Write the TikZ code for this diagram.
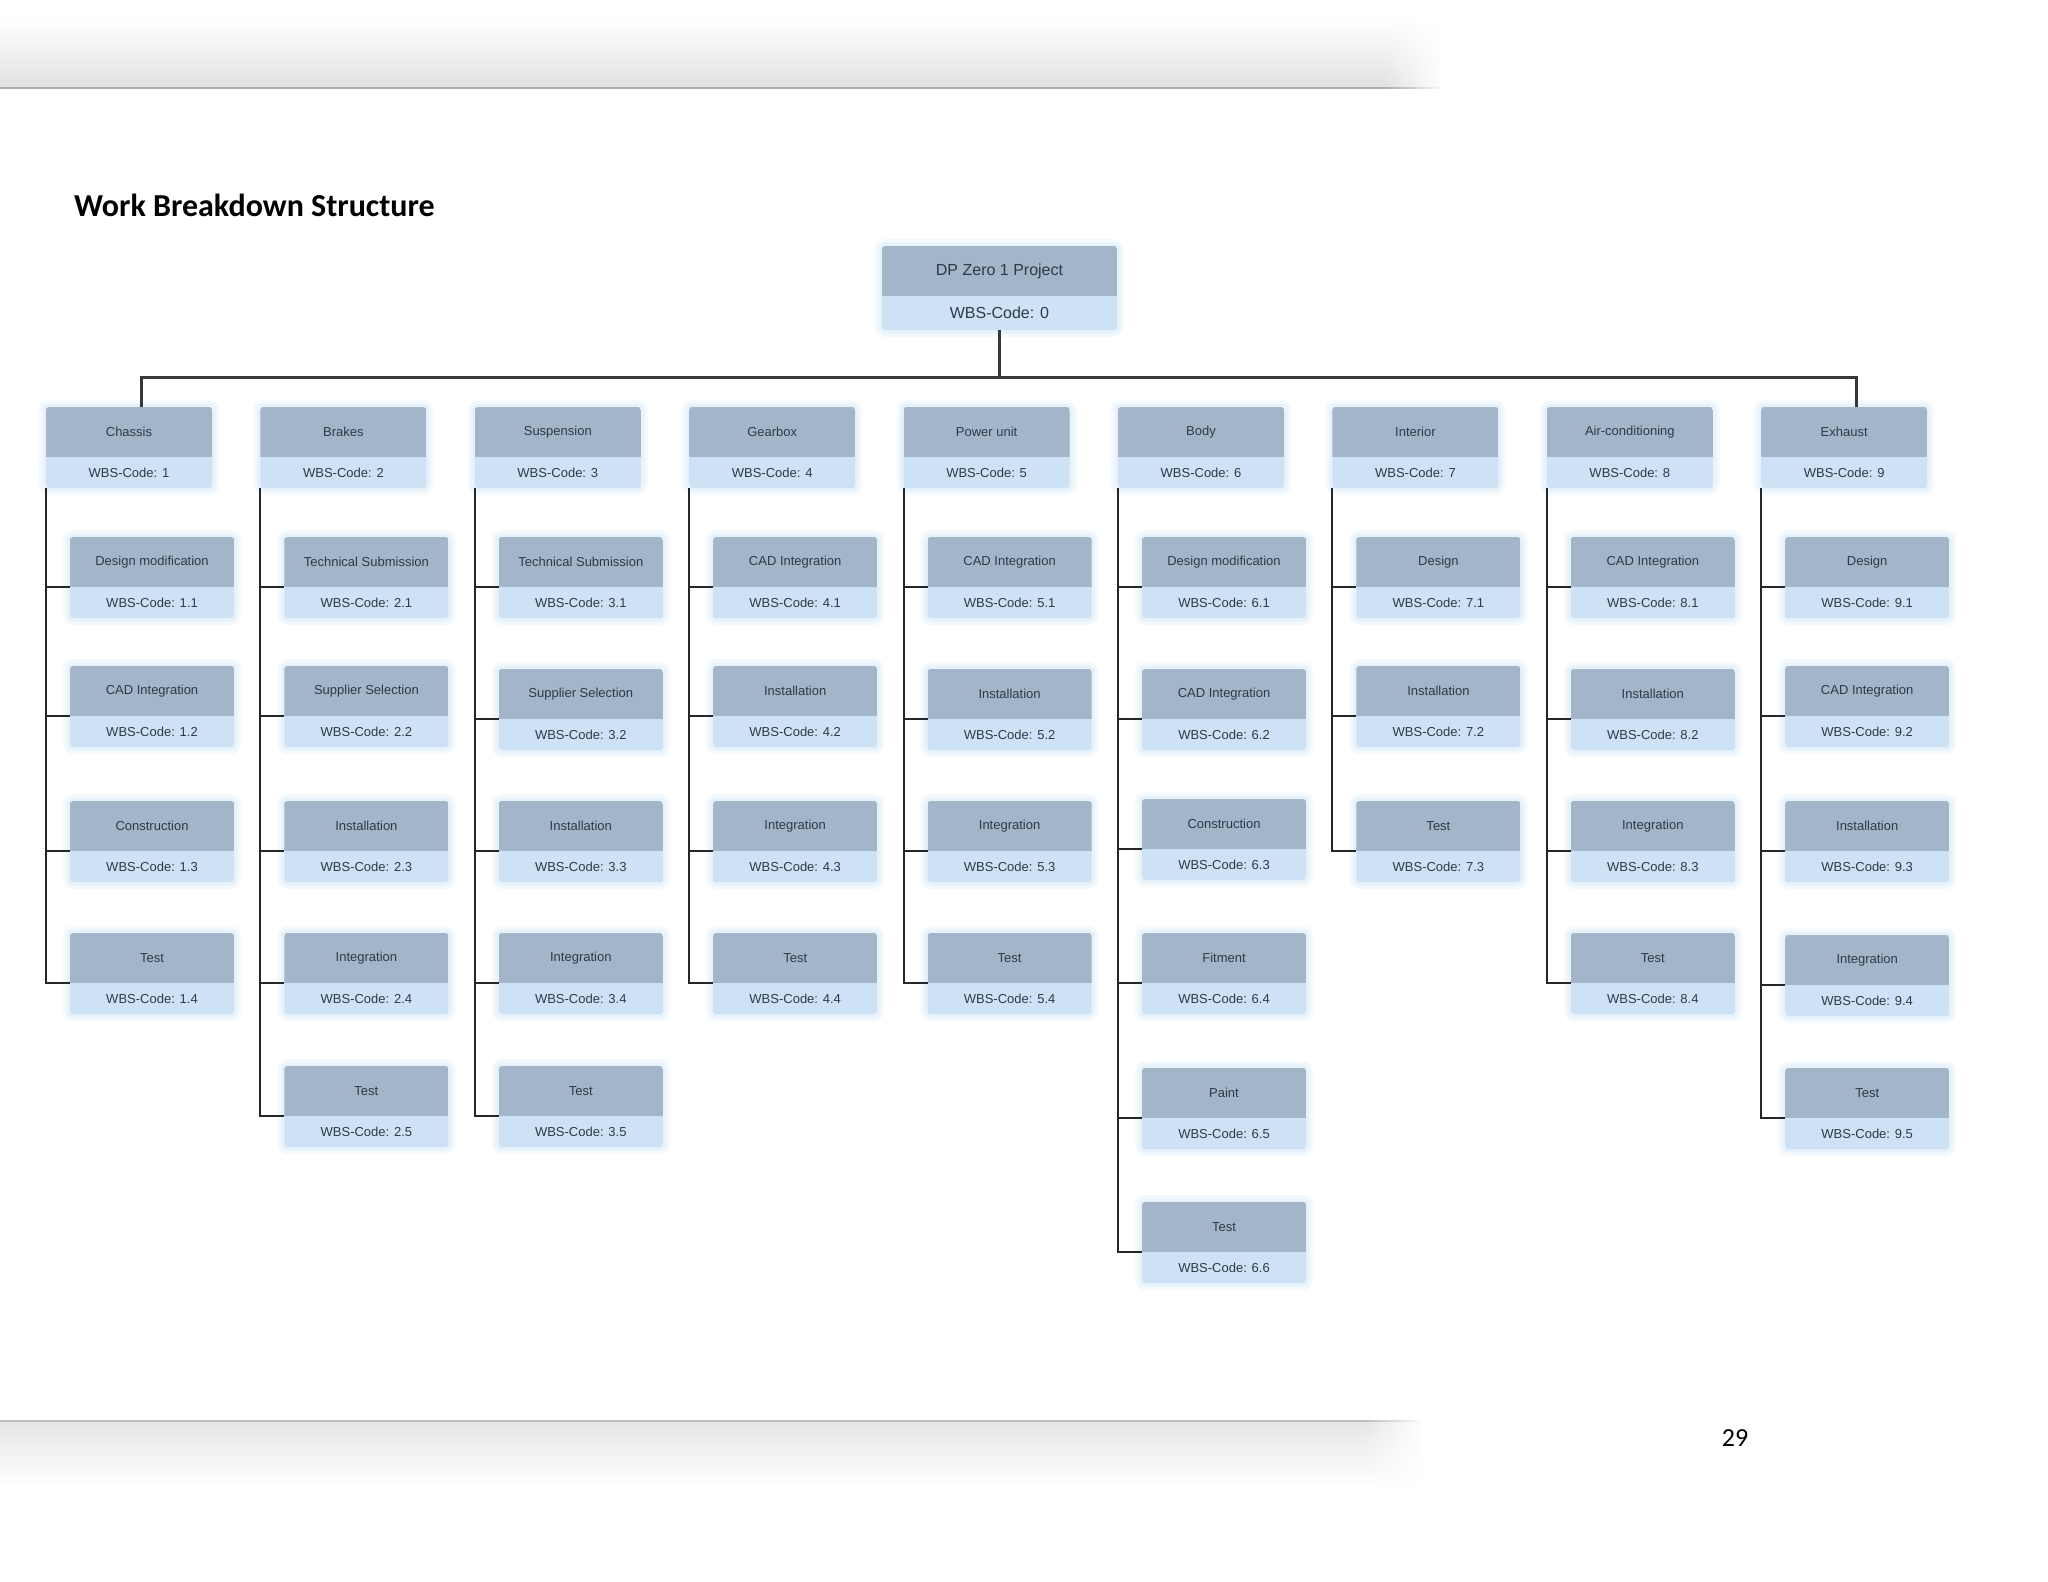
\documentclass[tikz,border=0pt]{standalone}
\usepackage{fontspec}
\setmainfont{Liberation Sans}
\newfontfamily\carlito{Carlito}
\usetikzlibrary{calc}
\definecolor{darkc}{HTML}{A3B5C9}
\definecolor{lightc}{HTML}{CDE3F5}
\definecolor{txtc}{HTML}{2F3A48}
\definecolor{haloA}{HTML}{F4F9FD}
\definecolor{haloB}{HTML}{E8F2FA}
\tikzset{
  boxbase/.style={fill=lightc, rounded corners=3pt, inner sep=0pt, outer sep=0pt,
    line join=round,
    preaction={draw=haloA, line width=14pt},
    preaction={draw=haloB, line width=7pt}},
  boxtxt/.style={text=txtc, inner sep=0pt},
  treeline/.style={draw=black!85, line width=2pt},
  busline/.style={draw=black!78, line width=3pt},
}
\newcommand\wbs[9]{%
  \node[boxbase, minimum width=#4pt, minimum height={#5+#6}, anchor=north] (#1) at (#2,#3) {};
  \begin{scope}
    \clip[rounded corners=3pt] (#1.south west) rectangle (#1.north east);
    \fill[darkc] (#1.north west) rectangle ([yshift=-#5pt]#1.north east);
  \end{scope}
  \coordinate (#1-s) at ([yshift=-#5pt]#1.north west);
  \node[boxtxt, font=\fontsize{#9}{#9}\selectfont] (#1-t) at ($(#1.north)+(0,{#5/2})$) {#7};
  \node[boxtxt, font=\fontsize{#9}{#9}\selectfont] (#1-c) at ($(#1.south)+(0,{-#6/2})$) {#8};
}
\newcommand\Lone[4]{\wbs{#1}{#2}{407}{166}{50}{31}{#3}{#4}{13}}
\newcommand\Ltwo[5]{\wbs{#1}{#2}{#3}{164}{50}{31}{#4}{#5}{13}}
\newcommand\kid[2]{\draw[treeline] (#1.south west) |- (#2-s);}
\begin{document}
\begin{tikzpicture}[x=1pt, y=-1pt]
\useasboundingbox (0,0) rectangle (2048,1582);
\fill[white] (0,0) rectangle (2048,1582);

% page shadows
\shade[top color=white, bottom color=black!12] (0,18) rectangle (1380,88);
\draw[black!32, line width=2pt] (0,88) -- (1380,88);
\foreach \i in {0,...,11} {
  \shade[top color=white, bottom color=black!12, opacity={1-\i/12}] ({1380+5*\i},18) rectangle ({1385+5*\i},88);
  \draw[black!32, line width=2pt, opacity={1-\i/12}] ({1380+5*\i},88) -- ({1385+5*\i},88);
}
\shade[top color=black!10, bottom color=white] (0,1421) rectangle (1360,1488);
\draw[black!26, line width=2pt] (0,1421) -- (1360,1421);
\foreach \i in {0,...,11} {
  \shade[top color=black!10, bottom color=white, opacity={1-\i/12}] ({1360+5*\i},1421) rectangle ({1365+5*\i},1488);
  \draw[black!26, line width=2pt, opacity={1-\i/12}] ({1360+5*\i},1421) -- ({1365+5*\i},1421);
}

% title and page number
\node[anchor=base west, inner sep=0pt, font=\carlito\bfseries\fontsize{32}{32}\selectfont] (title) at (74,216) {Work Breakdown Structure};
\node[anchor=base, inner sep=0pt, font=\carlito\fontsize{26}{26}\selectfont] (pnum) at (1735,1446) {29};

% root
\wbs{root}{999.5}{246}{235}{50}{34}{DP Zero 1 Project}{WBS-Code: 0}{16}

% level 1
\Lone{n1}{129}{Chassis}{WBS-Code: 1}
\Lone{n2}{343.4}{Brakes}{WBS-Code: 2}
\Lone{n3}{557.8}{Suspension}{WBS-Code: 3}
\Lone{n4}{772.2}{Gearbox}{WBS-Code: 4}
\Lone{n5}{986.6}{Power unit}{WBS-Code: 5}
\Lone{n6}{1201}{Body}{WBS-Code: 6}
\Lone{n7}{1415.4}{Interior}{WBS-Code: 7}
\Lone{n8}{1629.8}{Air-conditioning}{WBS-Code: 8}
\Lone{n9}{1844.2}{Exhaust}{WBS-Code: 9}

% bus
\coordinate (busM) at (999.5,377);
\coordinate (busL) at (141,377);
\coordinate (busR) at (1856,377);
\draw[busline] (root.south) -- (busM);
\draw[busline, line join=miter] (n1.north -| busL) -- (busL) -- (busR) -- (n9.north -| busR);

% Chassis
\Ltwo{n11}{152}{537}{Design modification}{WBS-Code: 1.1}
\Ltwo{n12}{152}{666}{CAD Integration}{WBS-Code: 1.2}
\Ltwo{n13}{152}{801}{Construction}{WBS-Code: 1.3}
\Ltwo{n14}{152}{933}{Test}{WBS-Code: 1.4}
% Brakes
\Ltwo{n21}{366.4}{537}{Technical Submission}{WBS-Code: 2.1}
\Ltwo{n22}{366.4}{666}{Supplier Selection}{WBS-Code: 2.2}
\Ltwo{n23}{366.4}{801}{Installation}{WBS-Code: 2.3}
\Ltwo{n24}{366.4}{933}{Integration}{WBS-Code: 2.4}
\Ltwo{n25}{366.4}{1066}{Test}{WBS-Code: 2.5}
% Suspension
\Ltwo{n31}{580.8}{537}{Technical Submission}{WBS-Code: 3.1}
\Ltwo{n32}{580.8}{669}{Supplier Selection}{WBS-Code: 3.2}
\Ltwo{n33}{580.8}{801}{Installation}{WBS-Code: 3.3}
\Ltwo{n34}{580.8}{933}{Integration}{WBS-Code: 3.4}
\Ltwo{n35}{580.8}{1066}{Test}{WBS-Code: 3.5}
% Gearbox
\Ltwo{n41}{795.2}{537}{CAD Integration}{WBS-Code: 4.1}
\Ltwo{n42}{795.2}{666}{Installation}{WBS-Code: 4.2}
\Ltwo{n43}{795.2}{801}{Integration}{WBS-Code: 4.3}
\Ltwo{n44}{795.2}{933}{Test}{WBS-Code: 4.4}
% Power unit
\Ltwo{n51}{1009.6}{537}{CAD Integration}{WBS-Code: 5.1}
\Ltwo{n52}{1009.6}{669}{Installation}{WBS-Code: 5.2}
\Ltwo{n53}{1009.6}{801}{Integration}{WBS-Code: 5.3}
\Ltwo{n54}{1009.6}{933}{Test}{WBS-Code: 5.4}
% Body
\Ltwo{n61}{1224}{537}{Design modification}{WBS-Code: 6.1}
\Ltwo{n62}{1224}{669}{CAD Integration}{WBS-Code: 6.2}
\Ltwo{n63}{1224}{799}{Construction}{WBS-Code: 6.3}
\Ltwo{n64}{1224}{933}{Fitment}{WBS-Code: 6.4}
\Ltwo{n65}{1224}{1068}{Paint}{WBS-Code: 6.5}
\Ltwo{n66}{1224}{1202}{Test}{WBS-Code: 6.6}
% Interior
\Ltwo{n71}{1438.4}{537}{Design}{WBS-Code: 7.1}
\Ltwo{n72}{1438.4}{666}{Installation}{WBS-Code: 7.2}
\Ltwo{n73}{1438.4}{801}{Test}{WBS-Code: 7.3}
% Air-conditioning
\Ltwo{n81}{1652.8}{537}{CAD Integration}{WBS-Code: 8.1}
\Ltwo{n82}{1652.8}{669}{Installation}{WBS-Code: 8.2}
\Ltwo{n83}{1652.8}{801}{Integration}{WBS-Code: 8.3}
\Ltwo{n84}{1652.8}{933}{Test}{WBS-Code: 8.4}
% Exhaust
\Ltwo{n91}{1867.2}{537}{Design}{WBS-Code: 9.1}
\Ltwo{n92}{1867.2}{666}{CAD Integration}{WBS-Code: 9.2}
\Ltwo{n93}{1867.2}{801}{Installation}{WBS-Code: 9.3}
\Ltwo{n94}{1867.2}{935}{Integration}{WBS-Code: 9.4}
\Ltwo{n95}{1867.2}{1068}{Test}{WBS-Code: 9.5}

% connectors parent -> children
\kid{n1}{n11}\kid{n1}{n12}\kid{n1}{n13}\kid{n1}{n14}
\kid{n2}{n21}\kid{n2}{n22}\kid{n2}{n23}\kid{n2}{n24}\kid{n2}{n25}
\kid{n3}{n31}\kid{n3}{n32}\kid{n3}{n33}\kid{n3}{n34}\kid{n3}{n35}
\kid{n4}{n41}\kid{n4}{n42}\kid{n4}{n43}\kid{n4}{n44}
\kid{n5}{n51}\kid{n5}{n52}\kid{n5}{n53}\kid{n5}{n54}
\kid{n6}{n61}\kid{n6}{n62}\kid{n6}{n63}\kid{n6}{n64}\kid{n6}{n65}\kid{n6}{n66}
\kid{n7}{n71}\kid{n7}{n72}\kid{n7}{n73}
\kid{n8}{n81}\kid{n8}{n82}\kid{n8}{n83}\kid{n8}{n84}
\kid{n9}{n91}\kid{n9}{n92}\kid{n9}{n93}\kid{n9}{n94}\kid{n9}{n95}
\end{tikzpicture}
\end{document}
